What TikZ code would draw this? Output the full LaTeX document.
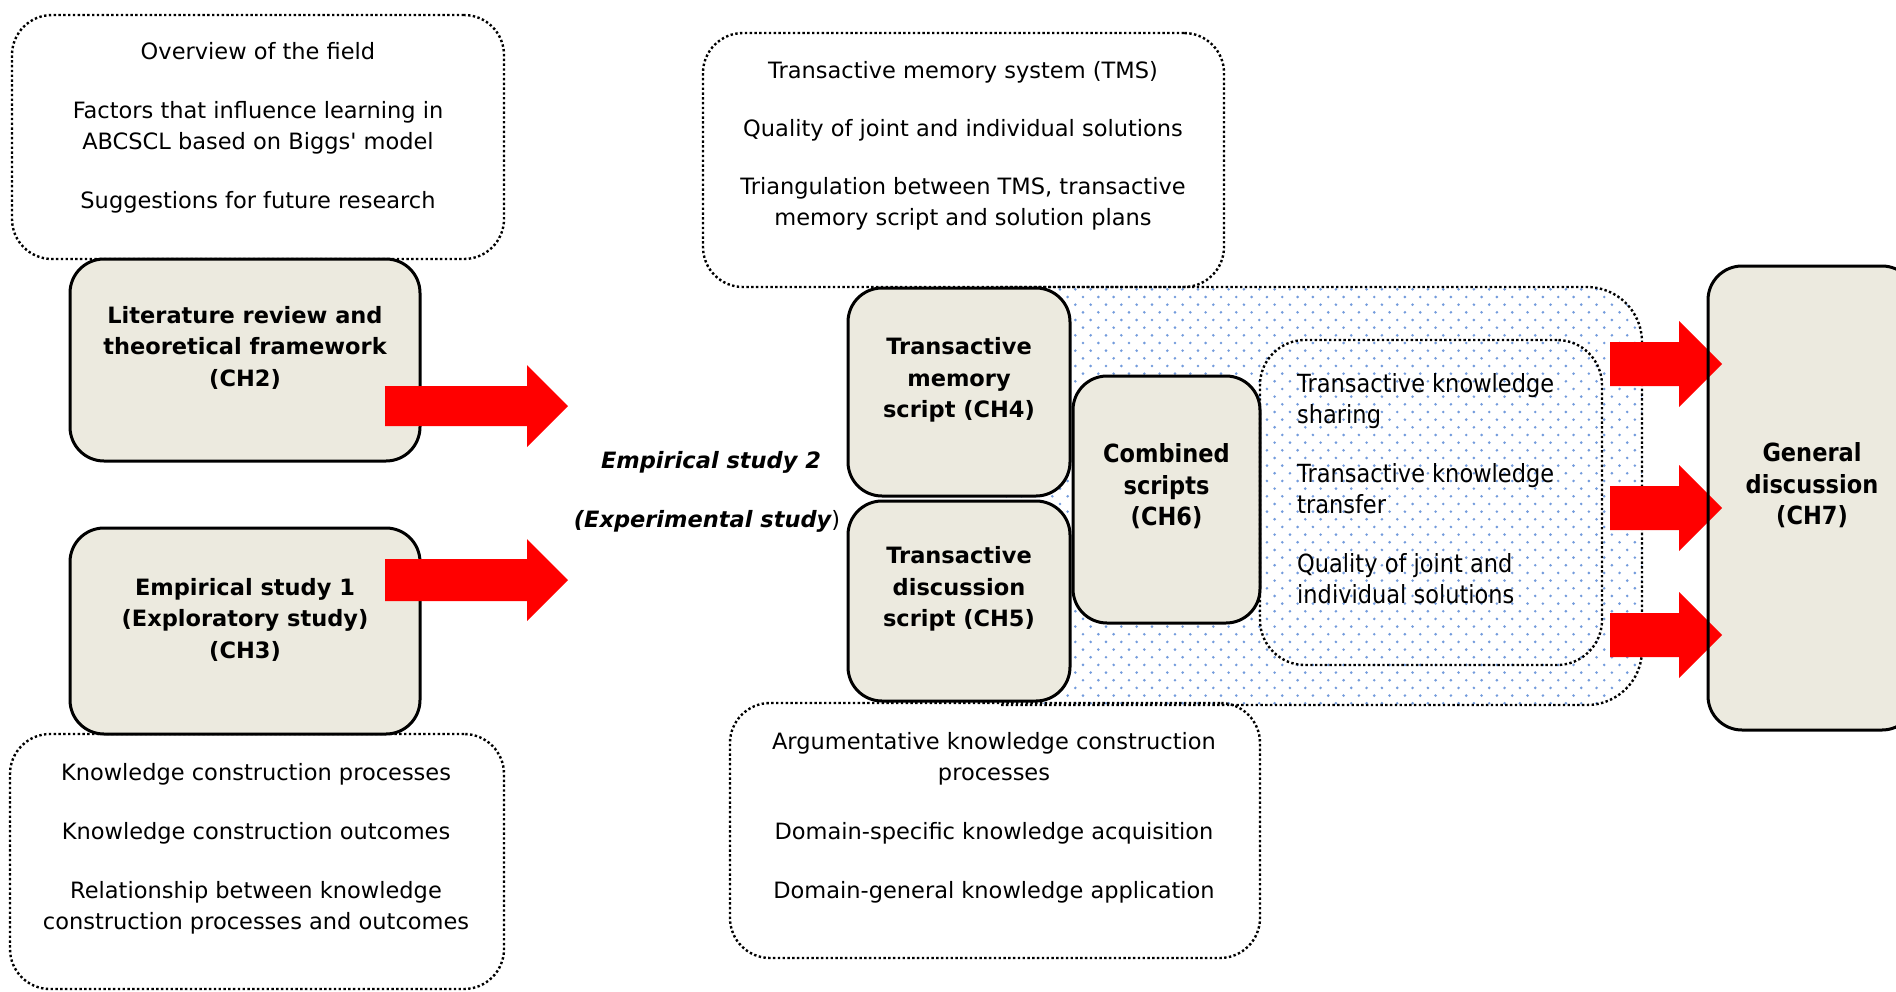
\documentclass[tikz,border=0pt]{standalone}
\usepackage{fontspec}
\setmainfont{DejaVu Sans}
\usepackage{graphicx}
\definecolor{boxfill}{RGB}{236,234,223}
\definecolor{dotblue}{RGB}{115,155,220}
\definecolor{arrowred}{RGB}{255,0,0}
\newcommand\blkarrow[6]{%
  \fill[arrowred] (#1,#4-#5) -- (#2,#4-#5) -- (#2,#4-#6) -- (#3,#4) -- (#2,#4+#6) -- (#2,#4+#5) -- (#1,#4+#5) -- cycle;}
\begin{document}
\begin{tikzpicture}[x=1pt,y=-1pt,
  chbox/.style={draw=black, line width=3pt, fill=boxfill, rounded corners=34pt, inner sep=0pt, outer sep=0pt},
  dotline/.style={draw=black, line width=2.4pt, dash pattern=on 2.4pt off 2.4pt, rounded corners=40pt, inner sep=0pt, outer sep=0pt},
  body/.style={font=\fontsize{22.5}{31}\selectfont, align=center, inner sep=0pt},
  bodyb/.style={font=\bfseries\fontsize{22.5}{31.5}\selectfont, align=center, inner sep=0pt},
  condtxt/.style={inner sep=0pt}
]
\useasboundingbox (0,0) rectangle (1896,991);

% dotted pattern background region (left side hidden behind CH4/CH5)
\begin{scope}
  \clip[rounded corners=55pt] (1000,287) rectangle (1642,705);
  \foreach \i in {0,...,43}{
    \foreach \j in {0,...,28}{
      \fill[dotblue] (991+15.33*\i,281.67+15.33*\j) circle (1.45);
      \fill[dotblue] (998.67+15.33*\i,289.33+15.33*\j) circle (1.45);
    }
  }
\end{scope}
\coordinate (patnw) at (1000,287);
\coordinate (patne) at (1642,287);
\coordinate (patse) at (1642,705);
\coordinate (patsw) at (1000,705);
\draw[dotline, rounded corners=55pt] (patnw) -- (patne) -- (patse) -- (patsw);

% dotted text boxes
\node[dotline, minimum width=492, minimum height=244] (tl) at (258,137) {};
\node[dotline, minimum width=494, minimum height=255] (bl) at (257,861.5) {};
\node[dotline, minimum width=521, minimum height=254] (tm) at (963.5,160) {};
\node[dotline, minimum width=530, minimum height=255] (bm) at (995,830.5) {};

% chapter boxes
\node[chbox, minimum width=350, minimum height=202] (ch2) at (245,360) {};
\node[chbox, minimum width=350, minimum height=206] (ch3) at (245,631) {};
\node[chbox, minimum width=222, minimum height=208] (ch4) at (959,392) {};
\node[chbox, minimum width=222, minimum height=200] (ch5) at (959,601) {};
\node[chbox, minimum width=187, minimum height=247] (ch6) at (1166.5,499.5) {};
\node[chbox, draw=none, minimum width=208, minimum height=464] (ch7) at (1812,498) {};

% inner dotted box
\node[dotline, rounded corners=45pt, minimum width=342, minimum height=325] (inner) at (1431,502.5) {};

% texts in dotted boxes
\node[body] (tltxt) at (258,128) {Overview of the field\\[28pt]Factors that influence learning in\\ABCSCL based on Biggs\textquotesingle\ model\\[28pt]Suggestions for future research};
\node[body] (bltxt) at (256,848.5) {Knowledge construction processes\\[28pt]Knowledge construction outcomes\\[28pt]Relationship between knowledge\\construction processes and outcomes};
\node[body] (tmtxt) at (963,146) {Transactive memory system (TMS)\\[27pt]Quality of joint and individual solutions\\[27pt]Triangulation between TMS, transactive\\memory script and solution plans};
\node[body] (bmtxt) at (994,817.5) {Argumentative knowledge construction\\processes\\[28pt]Domain-specific knowledge acquisition\\[28pt]Domain-general knowledge application};

% inner condensed text
\node[condtxt, anchor=west] (innertxt) at (1297,491.5) {\fontsize{25}{31}\selectfont\scalebox{0.9}[1]{\begin{tabular}{@{}l@{}}Transactive knowledge\\sharing\\[28pt]Transactive knowledge\\transfer\\[28pt]Quality of joint and\\individual solutions\end{tabular}}};

% chapter texts
\node[bodyb] (ch2txt) at (245,347.5) {Literature review and\\theoretical framework\\(CH2)};
\node[bodyb] (ch3txt) at (245,619.5) {Empirical study 1\\(Exploratory study)\\(CH3)};
\node[bodyb] (ch4txt) at (959,380) {Transactive\\memory\\script (CH4)};
\node[bodyb] (ch5txt) at (959,589) {Transactive\\discussion\\script (CH5)};
\node[condtxt] (ch6txt) at (1166.5,488) {\bfseries\fontsize{25}{31.5}\selectfont\scalebox{0.9}[1]{\begin{tabular}{@{}c@{}}Combined\\scripts\\(CH6)\end{tabular}}};
\node[condtxt] (ch7txt) at (1812,487) {\bfseries\fontsize{25}{31.5}\selectfont\scalebox{0.9}[1]{\begin{tabular}{@{}c@{}}General\\discussion\\(CH7)\end{tabular}}};

% empirical study 2 label
\node[body, font=\bfseries\itshape\fontsize{22.5}{31}\selectfont] (es2) at (711,462.5) {Empirical study 2};
\node[body] (es2b) at (707,521.5) {{\bfseries\itshape (Experimental study})};

% block arrows
\blkarrow{385}{527}{568}{406}{20}{41}
\blkarrow{385}{527}{568}{580}{21}{41}
\blkarrow{1610}{1679}{1722}{364}{22}{43}
\blkarrow{1610}{1679}{1722}{508}{22}{43}
\blkarrow{1610}{1679}{1722}{635}{22}{43}

% CH7 outline on top of the arrow tips
\draw[line width=3pt, rounded corners=34pt] (ch7.north west) rectangle (ch7.south east);
\end{tikzpicture}
\end{document}
